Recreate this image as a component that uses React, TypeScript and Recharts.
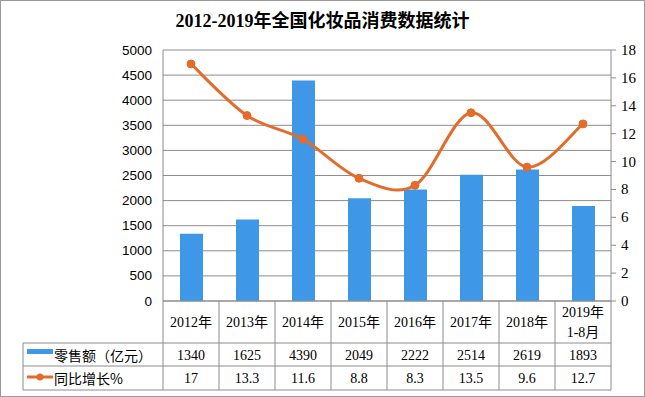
import React from "react";
import { ComposedChart, Bar, Line, XAxis, YAxis, CartesianGrid } from "recharts";

const categories: string[] = ["2012年", "2013年", "2014年", "2015年", "2016年", "2017年", "2018年", "2019年\n1-8月"];
const sales: number[] = [1340, 1625, 4390, 2049, 2222, 2514, 2619, 1893];
const growth: number[] = [17, 13.3, 11.6, 8.8, 8.3, 13.5, 9.6, 12.7];
const leftTicks: number[] = [0, 500, 1000, 1500, 2000, 2500, 3000, 3500, 4000, 4500, 5000];
const rightTicks: number[] = [0, 2, 4, 6, 8, 10, 12, 14, 16, 18];
const seriesNames = { sales: "零售额（亿元）", growth: "同比增长%" };
const title = "2012-2019年全国化妆品消费数据统计";

const data = categories.map((c, i) => ({ year: c, sales: sales[i], growth: growth[i] }));

const BLUE = "#3f97e8";
const ORANGE = "#e46c2a";
const GRID = "#8c8c8c";
const SERIF = "'Liberation Serif', 'Noto Sans CJK SC', serif";

// Excel-like smooth curve (Catmull-Rom / cardinal tension 0)
function smoothCurve(context: any) {
  let pts: number[][] = [];
  return {
    areaStart() {},
    areaEnd() {},
    lineStart() {
      pts = [];
    },
    point(x: number, y: number) {
      pts.push([+x, +y]);
    },
    lineEnd() {
      const n = pts.length;
      if (!n) return;
      context.moveTo(pts[0][0], pts[0][1]);
      for (let i = 0; i < n - 1; i++) {
        const p0 = pts[i - 1] || pts[i];
        const p1 = pts[i];
        const p2 = pts[i + 1];
        const p3 = pts[i + 2] || p2;
        context.bezierCurveTo(
          p1[0] + (p2[0] - p0[0]) / 6,
          p1[1] + (p2[1] - p0[1]) / 6,
          p2[0] - (p3[0] - p1[0]) / 6,
          p2[1] - (p3[1] - p1[1]) / 6,
          p2[0],
          p2[1]
        );
      }
    },
  };
}

const ROW_TOP = 301;
const ROW1 = 343;
const ROW2 = 366;
const ROW3 = 390;
const TABLE_LEFT = 23;

const RightTick = (props: any) => {
  const { x, y, payload } = props;
  return (
    <text x={x} y={y} textAnchor="start" dominantBaseline="central" style={{ fontFamily: SERIF, fontSize: 15, fill: "#000" }}>
      {String(payload.value)}
    </text>
  );
};

const LeftTick = (props: any) => {
  const { x, y, payload } = props;
  return (
    <text x={x} y={y} textAnchor="end" dominantBaseline="central" style={{ fontFamily: "'Liberation Sans', Arial, sans-serif", fontSize: 13.5, fill: "#000" }}>
      {String(payload.value)}
    </text>
  );
};

const TableTick = (props: any) => {
  const { x, payload, index } = props;
  const half = payload && typeof payload.offset === "number" && payload.offset > 0 ? payload.offset : 28;
  const left = x - half;
  const right = x + half;
  const label = String(payload.value);
  const lines = label.split("\n");
  const textStyle = { fontFamily: SERIF, fontSize: 14, fill: "#000" } as any;
  return (
    <g>
      <line x1={right} y1={ROW_TOP} x2={right} y2={ROW3} stroke={GRID} />
      <line x1={left} y1={ROW1} x2={right} y2={ROW1} stroke={GRID} />
      <line x1={left} y1={ROW2} x2={right} y2={ROW2} stroke={GRID} />
      <line x1={left} y1={ROW3} x2={right} y2={ROW3} stroke={GRID} />
      {lines.length === 1 ? (
        <text x={x} y={322} textAnchor="middle" dominantBaseline="central" style={textStyle}>
          {label}
        </text>
      ) : (
        lines.map((l, k) => (
          <text key={k} x={x} y={312 + k * 20} textAnchor="middle" dominantBaseline="central" style={textStyle}>
            {l}
          </text>
        ))
      )}
      <text x={x} y={355} textAnchor="middle" dominantBaseline="central" style={textStyle}>
        {String(sales[index])}
      </text>
      <text x={x} y={378.5} textAnchor="middle" dominantBaseline="central" style={textStyle}>
        {String(growth[index])}
      </text>
      {index === 0 && (
        <g>
          <line x1={left} y1={ROW_TOP} x2={left} y2={ROW3} stroke={GRID} />
          <line x1={TABLE_LEFT} y1={ROW1} x2={TABLE_LEFT} y2={ROW3} stroke={GRID} />
          <line x1={TABLE_LEFT} y1={ROW1} x2={left} y2={ROW1} stroke={GRID} />
          <line x1={TABLE_LEFT} y1={ROW2} x2={left} y2={ROW2} stroke={GRID} />
          <line x1={TABLE_LEFT} y1={ROW3} x2={left} y2={ROW3} stroke={GRID} />
          <rect x={27} y={349} width={26} height={5} fill={BLUE} />
          <text x={54} y={354.5} dominantBaseline="central" style={{ ...textStyle, fontFamily: "'Noto Sans CJK SC', sans-serif" }}>
            {seriesNames.sales}
          </text>
          <line x1={27} y1={377} x2={53} y2={377} stroke={ORANGE} strokeWidth={3} />
          <circle cx={40} cy={377} r={3.5} fill={ORANGE} />
          <text x={54} y={378} dominantBaseline="central" style={{ ...textStyle, fontFamily: "'Noto Sans CJK SC', sans-serif" }}>
            {seriesNames.growth}
          </text>
        </g>
      )}
    </g>
  );
};

export default function App() {
  return (
    <div style={{ position: "absolute", left: 0, top: 0, width: 645, height: 397, background: "#fff" }}>
      <div
        style={{
          position: "absolute",
          left: 0,
          top: 9,
          width: 645,
          textAlign: "center",
          fontFamily: SERIF,
          fontWeight: "bold",
          fontSize: 18,
          color: "#000",
          lineHeight: "24px",
        }}
      >
        {title}
      </div>
      <ComposedChart width={645} height={397} data={data} margin={{ top: 50, right: 0, left: 0, bottom: 0 }}>
        <CartesianGrid yAxisId="l" vertical={false} stroke={GRID} />
        <XAxis
          dataKey="year"
          height={96}
          interval={0}
          axisLine={{ stroke: GRID }}
          tickLine={false}
          tick={<TableTick />}
        />
        <YAxis
          yAxisId="l"
          width={163}
          domain={[0, 5000]}
          ticks={leftTicks}
          interval={0}
          axisLine={{ stroke: GRID }}
          tickLine={false}
          tickMargin={5}
          tick={<LeftTick />}
        />
        <YAxis
          yAxisId="r"
          orientation="right"
          width={34}
          domain={[0, 18]}
          ticks={rightTicks}
          interval={0}
          axisLine={{ stroke: GRID }}
          tickLine={{ stroke: GRID }}
          tickSize={5}
          tickMargin={5}
          tick={<RightTick />}
        />
        <Bar yAxisId="l" dataKey="sales" fill={BLUE} barSize={23} isAnimationActive={false} />
        <Line
          yAxisId="r"
          dataKey="growth"
          type={smoothCurve as any}
          stroke={ORANGE}
          strokeWidth={3}
          dot={{ r: 4, fill: ORANGE, stroke: ORANGE, strokeWidth: 1 }}
          activeDot={false}
          isAnimationActive={false}
        />
      </ComposedChart>
      <div
        style={{
          position: "absolute",
          left: 0,
          top: 0,
          width: 645,
          height: 397,
          boxSizing: "border-box",
          border: "1px solid #9a9a9a",
          pointerEvents: "none",
        }}
      />
    </div>
  );
}
